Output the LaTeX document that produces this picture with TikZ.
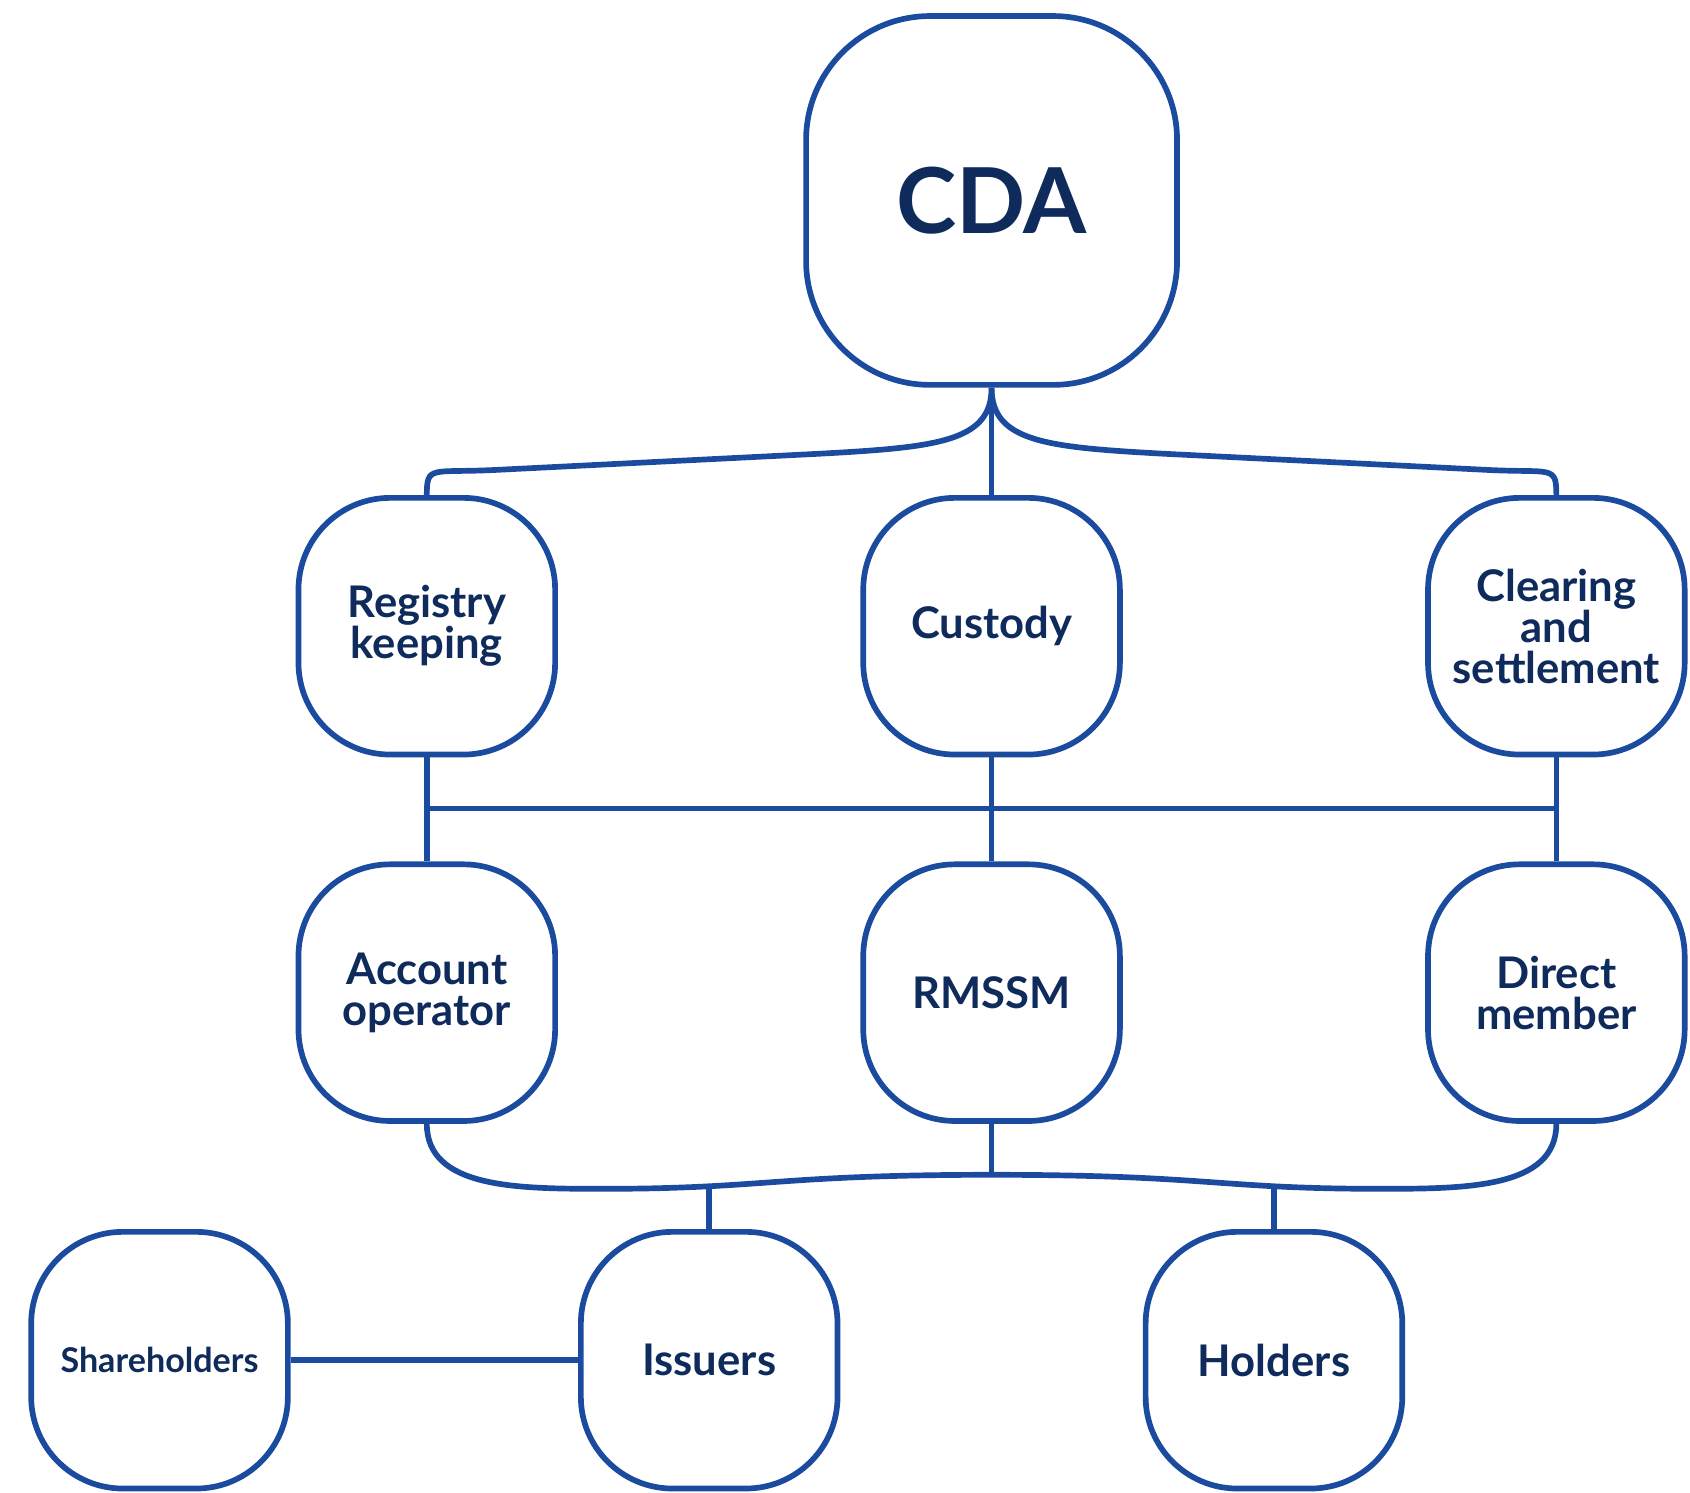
\documentclass[tikz,border=0pt]{standalone}
\usepackage{fontspec}
\setmainfont{Lato}
\definecolor{cdaline}{HTML}{1B4B9E}
\definecolor{cdatext}{HTML}{0E2B5C}
\begin{document}
\begin{tikzpicture}[x=0.01cm,y=-0.01cm,
  box/.style={draw=cdaline, line width=1.5pt, rounded corners=0.85cm,
    minimum width=2.38cm, minimum height=2.38cm, inner sep=0pt,
    align=center, text=cdatext, font=\bfseries\fontsize{11.5}{10.8}\selectfont},
  link/.style={draw=cdaline, line width=1.5pt}]
\useasboundingbox (0,0) rectangle (1568,1385);

\node[box, minimum width=3.44cm, minimum height=3.42cm, rounded corners=1.15cm,
  font=\bfseries\fontsize{24}{26}\selectfont] (1) at (920,186) {CDA};
\node[box] (2) at (396,581) {Registry\\keeping};
\node[box] (3) at (920,581) {Custody};
\node[box] (4) at (1444,581) {Clearing\\and\\settlement};
\node[box] (5) at (396,921) {Account\\operator};
\node[box] (6) at (920,921) {RMSSM};
\node[box] (7) at (1444,921) {Direct\\member};
\node[box, font=\bfseries\fontsize{9}{10}\selectfont] (8) at (148,1262) {Shareholders};
\node[box] (9) at (658,1262) {Issuers};
\node[box] (10) at (1182,1262) {Holders};

\coordinate (b1) at (396,750);
\coordinate (b2) at (1444,750);
\coordinate (m) at (920,1090);
\coordinate (jl) at (658,1100);
\coordinate (jr) at (1182,1100);

\path[link] (1.south) .. controls +(0,50) and +(110,-6) .. (760,421) -- (460,436)
  .. controls +(-60,3) and +(0,-28) .. (2.north);
\path[link] (1.south) -- (3.north);
\path[link] (1.south) .. controls +(0,50) and +(-110,-6) .. (1080,421) -- (1380,436)
  .. controls +(60,3) and +(0,-28) .. (4.north);

\path[link] (2.south) -- (5.north);
\path[link] (3.south) -- (6.north);
\path[link] (4.south) -- (7.north);
\path[link] (b1) -- (b2);

\path[link] (5.south) .. controls +(0,60) and +(-80,0) .. (560,1103)
  .. controls +(150,0) and +(-200,0) .. (m)
  .. controls +(200,0) and +(-150,0) .. (1280,1103)
  .. controls +(80,0) and +(0,60) .. (7.south);
\path[link] (6.south) -- (m);
\path[link] (9.north) -- (jl);
\path[link] (10.north) -- (jr);
\path[link] (8.east) -- (9.west);
\end{tikzpicture}
\end{document}
